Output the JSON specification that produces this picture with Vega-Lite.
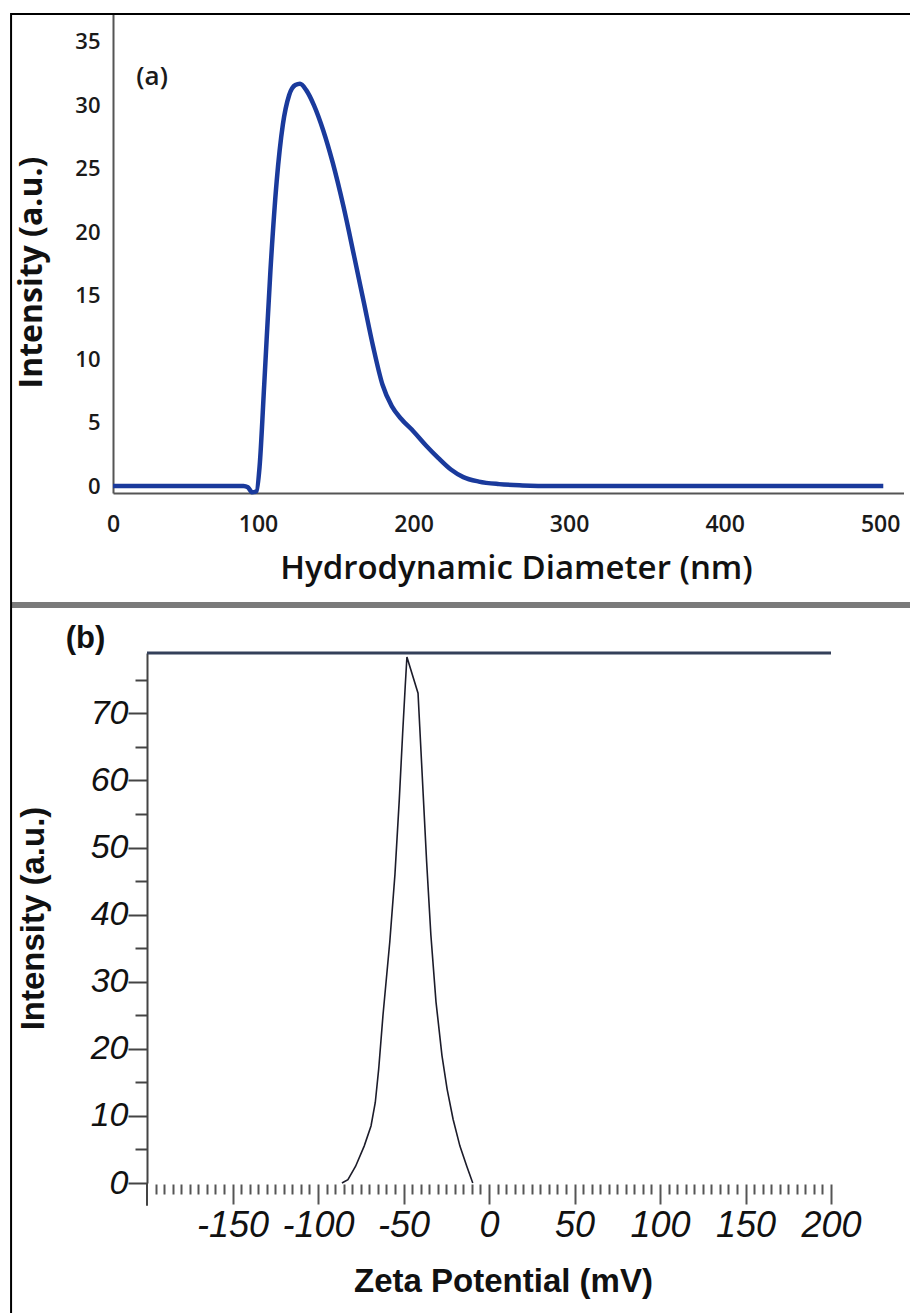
{
  "$schema": "https://vega.github.io/schema/vega-lite/v6.json",
  "width": 910,
  "height": 1313,
  "autosize": {"type": "none"},
  "padding": 0,
  "background": "white",
  "config": {"view": {"stroke": null}, "axis": {"grid": false}},
  "datasets": {
    "dls": [
      {"d": 0, "i": 0}, {"d": 30, "i": 0}, {"d": 60, "i": 0}, {"d": 90, "i": 0},
      {"d": 93, "i": -0.1}, {"d": 96, "i": -0.5}, {"d": 99, "i": -0.4},
      {"d": 101, "i": 1.5}, {"d": 104, "i": 8}, {"d": 108, "i": 17}, {"d": 112, "i": 24},
      {"d": 116, "i": 28.5}, {"d": 120, "i": 30.8}, {"d": 124, "i": 31.6}, {"d": 127, "i": 31.7},
      {"d": 131, "i": 31.2}, {"d": 136, "i": 30}, {"d": 142, "i": 28}, {"d": 148, "i": 25.5},
      {"d": 155, "i": 22}, {"d": 162, "i": 18}, {"d": 168, "i": 14.5}, {"d": 174, "i": 11},
      {"d": 180, "i": 8}, {"d": 186, "i": 6.3}, {"d": 192, "i": 5.3}, {"d": 200, "i": 4.3},
      {"d": 208, "i": 3.2}, {"d": 216, "i": 2.2}, {"d": 224, "i": 1.3}, {"d": 232, "i": 0.7},
      {"d": 242, "i": 0.35}, {"d": 255, "i": 0.15}, {"d": 270, "i": 0.05}, {"d": 290, "i": 0},
      {"d": 350, "i": 0}, {"d": 420, "i": 0}, {"d": 502, "i": 0}
    ],
    "zeta": [
      {"z": -86, "i": 0}, {"z": -82.5, "i": 0.5}, {"z": -78, "i": 2.5}, {"z": -73, "i": 5.5},
      {"z": -69, "i": 8.5}, {"z": -66.5, "i": 12}, {"z": -64.5, "i": 17}, {"z": -62, "i": 25},
      {"z": -58, "i": 36}, {"z": -55, "i": 46}, {"z": -52.5, "i": 57}, {"z": -50.5, "i": 67},
      {"z": -49, "i": 74}, {"z": -48, "i": 78.4}, {"z": -41.5, "i": 73}, {"z": -40.5, "i": 68},
      {"z": -38.5, "i": 58}, {"z": -36.5, "i": 48}, {"z": -34, "i": 37}, {"z": -31, "i": 27},
      {"z": -27.5, "i": 19}, {"z": -24.5, "i": 14}, {"z": -21, "i": 9.5}, {"z": -17, "i": 5.5},
      {"z": -13, "i": 2.5}, {"z": -9.5, "i": 0}
    ],
    "one": [{}]
  },
  "layer": [
    {
      "layer": [
        {
          "data": {"name": "dls"},
          "mark": {"type": "line", "interpolate": "monotone", "color": "#1a3a9c", "strokeWidth": 4.5},
          "encoding": {
            "x": {
              "field": "d", "type": "quantitative",
              "scale": {"domain": [0, 100, 515], "range": [113, 258, 903.5], "nice": false, "zero": false},
              "axis": {
                "orient": "bottom", "offset": -820,
                "values": [0, 100, 200, 300, 400, 500],
                "ticks": false, "domainColor": "#555555", "domainWidth": 2,
                "labelFont": "Open Sans", "labelFontWeight": 600, "labelFontSize": 23,
                "labelColor": "#1a1a1a", "labelPadding": 20, "labelFlush": false, "labelOverlap": false,
                "title": "Hydrodynamic Diameter (nm)", "titleFont": "Open Sans", "titleFontWeight": 600,
                "titleFontSize": 33, "titleColor": "#111111", "titlePadding": 16, "titleX": 516
              }
            },
            "y": {
              "field": "i", "type": "quantitative",
              "scale": {"domain": [-0.55, 37.2], "range": [493, 14], "nice": false, "zero": false},
              "axis": {
                "orient": "left", "offset": -113,
                "values": [0, 5, 10, 15, 20, 25, 30, 35],
                "ticks": false, "domainColor": "#555555", "domainWidth": 2,
                "labelFont": "Open Sans", "labelFontWeight": 600, "labelFontSize": 22,
                "labelColor": "#1a1a1a", "labelPadding": 13, "labelFlush": false, "labelOverlap": false,
                "title": "Intensity (a.u.)", "titleFont": "Open Sans", "titleFontWeight": 700,
                "titleFontSize": 32, "titleColor": "#111111", "titlePadding": 26, "titleY": 272
              }
            }
          }
        },
        {
          "data": {"name": "one"},
          "mark": {"type": "text", "font": "Open Sans", "fontWeight": 600, "fontSize": 26, "align": "center", "baseline": "middle", "color": "#1a1a1a"},
          "encoding": {
            "x": {"datum": 27, "type": "quantitative", "axis": null, "scale": {"domain": [0, 100, 515], "range": [113, 258, 903.5], "nice": false, "zero": false}},
            "y": {"datum": 32.2, "type": "quantitative", "axis": null, "scale": {"domain": [-0.55, 37.2], "range": [493, 14], "nice": false, "zero": false}},
            "text": {"value": "(a)"}
          }
        },
        {
          "data": {"name": "one"},
          "mark": {"type": "rule", "color": "#7a7a7a", "strokeWidth": 6},
          "encoding": {
            "x": {"datum": -70.3, "type": "quantitative", "axis": null, "scale": {"domain": [0, 100, 515], "range": [113, 258, 903.5], "nice": false, "zero": false}},
            "x2": {"datum": 530},
            "y": {"datum": -9.38, "type": "quantitative", "axis": null, "scale": {"domain": [-0.55, 37.2], "range": [493, 14], "nice": false, "zero": false}}
          }
        },
        {
          "data": {"name": "one"},
          "mark": {"type": "rule", "color": "#000000", "strokeWidth": 2},
          "encoding": {
            "x": {"datum": -70.3, "type": "quantitative", "axis": null, "scale": {"domain": [0, 100, 515], "range": [113, 258, 903.5], "nice": false, "zero": false}},
            "x2": {"datum": 530},
            "y": {"datum": 37.2, "type": "quantitative", "axis": null, "scale": {"domain": [-0.55, 37.2], "range": [493, 14], "nice": false, "zero": false}}
          }
        },
        {
          "data": {"name": "one"},
          "mark": {"type": "rule", "color": "#000000", "strokeWidth": 2},
          "encoding": {
            "x": {"datum": -70.3, "type": "quantitative", "axis": null, "scale": {"domain": [0, 100, 515], "range": [113, 258, 903.5], "nice": false, "zero": false}},
            "y": {"datum": 37.28, "type": "quantitative", "axis": null, "scale": {"domain": [-0.55, 37.2], "range": [493, 14], "nice": false, "zero": false}},
            "y2": {"datum": -70}
          }
        }
      ],
      "resolve": {"axis": {"x": "independent", "y": "independent"}}
    },
    {
      "layer": [
        {
          "data": {"name": "zeta"},
          "mark": {"type": "line", "color": "#1c1c2a", "strokeWidth": 1.6},
          "encoding": {
            "x": {
              "field": "z", "type": "quantitative",
              "scale": {"domain": [-200, 200], "range": [147, 831], "nice": false, "zero": false},
              "axis": {
                "orient": "bottom", "offset": -129,
                "values": [-150, -100, -50, 0, 50, 100, 150, 200],
                "labelExpr": "'' + datum.value",
                "tickSize": 20, "tickWidth": 2, "tickColor": "#555555", "domain": false,
                "labelFont": "Liberation Sans", "labelFontStyle": "italic", "labelFontSize": 36,
                "labelColor": "#111111", "labelPadding": 4, "labelFlush": false, "labelOverlap": false,
                "title": "Zeta Potential (mV)", "titleFont": "Liberation Sans", "titleFontWeight": "bold",
                "titleFontSize": 33, "titleColor": "#111111", "titlePadding": 22, "titleX": 503
              }
            },
            "y": {
              "field": "i", "type": "quantitative",
              "scale": {"domain": [0, 79], "range": [1183, 653], "nice": false, "zero": false},
              "axis": {
                "orient": "left", "offset": -147,
                "values": [0, 10, 20, 30, 40, 50, 60, 70],
                "tickSize": 19, "tickWidth": 2, "tickColor": "#444444",
                "domainColor": "#444444", "domainWidth": 2,
                "labelFont": "Liberation Sans", "labelFontStyle": "italic", "labelFontSize": 34,
                "labelColor": "#111111", "labelPadding": 0, "labelFlush": false, "labelOverlap": false,
                "title": "Intensity (a.u.)", "titleFont": "Liberation Sans", "titleFontWeight": "bold",
                "titleFontSize": 33, "titleColor": "#111111", "titlePadding": 40
              }
            }
          }
        },
        {
          "data": {"name": "one"},
          "mark": {"type": "rule", "color": "#34405a", "strokeWidth": 3},
          "encoding": {
            "x": {
              "datum": -200, "type": "quantitative",
              "scale": {"domain": [-200, 200], "range": [147, 831], "nice": false, "zero": false},
              "axis": {
                "orient": "bottom", "offset": -129,
                "values": [-195, -190, -185, -180, -175, -170, -165, -160, -155, -145, -140, -135, -130, -125, -120, -115, -110, -105, -95, -90, -85, -80, -75, -70, -65, -60, -55, -45, -40, -35, -30, -25, -20, -15, -10, -5, 5, 10, 15, 20, 25, 30, 35, 40, 45, 55, 60, 65, 70, 75, 80, 85, 90, 95, 105, 110, 115, 120, 125, 130, 135, 140, 145, 155, 160, 165, 170, 175, 180, 185, 190, 195],
                "tickSize": 10, "tickWidth": 2, "tickColor": "#555555",
                "domain": false, "labels": false, "title": null
              }
            },
            "x2": {"datum": 200},
            "y": {
              "datum": 79, "type": "quantitative",
              "scale": {"domain": [0, 79], "range": [1183, 653], "nice": false, "zero": false},
              "axis": {
                "orient": "left", "offset": -147,
                "values": [5, 15, 25, 35, 45, 55, 65, 75],
                "tickSize": 12, "tickWidth": 2, "tickColor": "#444444",
                "domain": false, "labels": false, "title": null
              }
            }
          }
        },
        {
          "data": {"name": "one"},
          "mark": {"type": "rule", "color": "#444444", "strokeWidth": 2},
          "encoding": {
            "x": {"datum": -200, "type": "quantitative", "axis": null, "scale": {"domain": [-200, 200], "range": [147, 831], "nice": false, "zero": false}},
            "y": {"datum": 0, "type": "quantitative", "axis": null, "scale": {"domain": [0, 79], "range": [1183, 653], "nice": false, "zero": false}},
            "y2": {"datum": -3.4}
          }
        },
        {
          "data": {"name": "one"},
          "mark": {"type": "text", "font": "Liberation Sans", "fontWeight": "bold", "fontSize": 31, "align": "center", "baseline": "middle", "color": "#111111"},
          "encoding": {
            "x": {"datum": -236, "type": "quantitative", "axis": null, "scale": {"domain": [-200, 200], "range": [147, 831], "nice": false, "zero": false}},
            "y": {"datum": 81.1, "type": "quantitative", "axis": null, "scale": {"domain": [0, 79], "range": [1183, 653], "nice": false, "zero": false}},
            "text": {"value": "(b)"}
          }
        }
      ],
      "resolve": {"axis": {"x": "independent", "y": "independent"}}
    }
  ],
  "resolve": {
    "scale": {"x": "independent", "y": "independent"},
    "axis": {"x": "independent", "y": "independent"}
  }
}
